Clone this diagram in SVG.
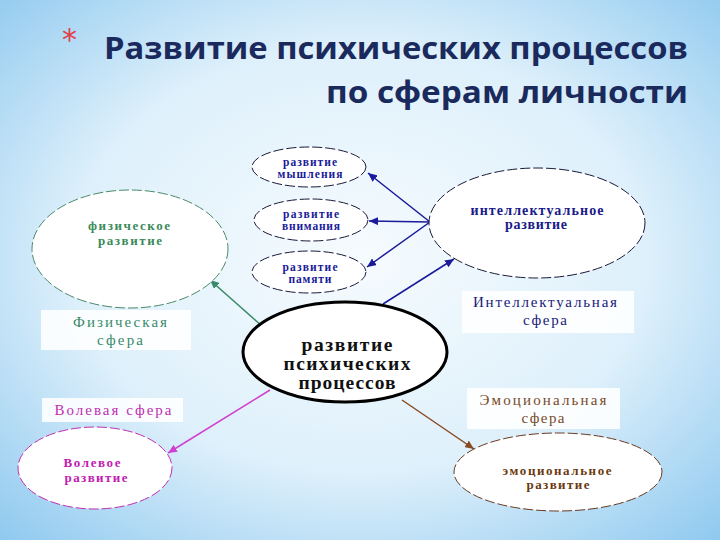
<svg xmlns="http://www.w3.org/2000/svg" width="720" height="540" viewBox="0 0 720 540">
<defs>
<radialGradient id="bg" cx="50%" cy="48%" r="72%">
<stop offset="0" stop-color="#f6fbfe"/>
<stop offset="0.55" stop-color="#def0fb"/>
<stop offset="1" stop-color="#8fc9ef"/>
</radialGradient>
<marker id="mBlue" markerUnits="userSpaceOnUse" markerWidth="9" markerHeight="8" refX="9" refY="4" orient="auto"><path d="M0,0 L9,4 L0,8 z" fill="#1a1a9a"/></marker>
<marker id="mGreen" markerUnits="userSpaceOnUse" markerWidth="9" markerHeight="8" refX="9" refY="4" orient="auto"><path d="M0,0 L9,4 L0,8 z" fill="#3a8a6a"/></marker>
<marker id="mMag" markerUnits="userSpaceOnUse" markerWidth="9" markerHeight="8" refX="9" refY="4" orient="auto"><path d="M0,0 L9,4 L0,8 z" fill="#d040d0"/></marker>
<marker id="mBrown" markerUnits="userSpaceOnUse" markerWidth="9" markerHeight="8" refX="9" refY="4" orient="auto"><path d="M0,0 L9,4 L0,8 z" fill="#8a4a20"/></marker>
</defs>
<style>
.title{font-family:"Open Sans","DejaVu Sans",sans-serif;font-weight:bold;font-size:30px;fill:#1b2a5c}
.el{fill:#ffffff;stroke-width:1;stroke-dasharray:10 3}
.b{font-family:"Liberation Serif","Times New Roman",serif;font-weight:bold;text-anchor:middle}
.r{font-family:"Liberation Serif","Times New Roman",serif;text-anchor:middle;font-size:15px}
.box{fill:#ffffff;fill-opacity:0.88}
.ln{fill:none;stroke-width:1.5}
</style>
<rect width="720" height="540" fill="url(#bg)"/>
<g id="title">
<text x="62" y="50" font-family="'DejaVu Sans',sans-serif" font-size="30" fill="#e04048">*</text>
<text class="title" x="688" y="59" text-anchor="end" textLength="584" lengthAdjust="spacingAndGlyphs">Развитие психических процессов</text>
<text class="title" x="688" y="103" text-anchor="end" textLength="362" lengthAdjust="spacingAndGlyphs">по сферам личности</text>
</g>
<g id="connectors">
<line class="ln" stroke="#1a1a9a" x1="430" y1="222" x2="368" y2="173" marker-end="url(#mBlue)"/>
<line class="ln" stroke="#1a1a9a" x1="430" y1="222" x2="369" y2="221" marker-end="url(#mBlue)"/>
<line class="ln" stroke="#1a1a9a" x1="430" y1="222" x2="367" y2="267" marker-end="url(#mBlue)"/>
<line class="ln" stroke="#1a1a9a" x1="383" y1="304" x2="454" y2="259" marker-end="url(#mBlue)"/>
<line class="ln" stroke="#3a8a6a" x1="262" y1="326" x2="210" y2="280" marker-end="url(#mGreen)"/>
<line class="ln" stroke="#d040d0" x1="270" y1="390" x2="168" y2="453" marker-end="url(#mMag)"/>
<line class="ln" stroke="#8a4a20" x1="402" y1="400" x2="474" y2="449" marker-end="url(#mBrown)"/>
</g>
<g id="thinking">
<ellipse class="el" stroke="#1a1a3a" cx="309" cy="167" rx="57" ry="20"/>
<text class="b" fill="#1a1a9a" font-size="11.5" x="310" y="166" textLength="54">развитие</text>
<text class="b" fill="#1a1a9a" font-size="11.5" x="310" y="178" textLength="65">мышления</text>
</g>
<g id="attention">
<ellipse class="el" stroke="#1a1a3a" cx="311" cy="220" rx="57" ry="21"/>
<text class="b" fill="#1a1a9a" font-size="11.5" x="311" y="218" textLength="56">развитие</text>
<text class="b" fill="#1a1a9a" font-size="11.5" x="311" y="230" textLength="58">внимания</text>
</g>
<g id="memory">
<ellipse class="el" stroke="#1a1a3a" cx="309" cy="272" rx="57" ry="21"/>
<text class="b" fill="#1a1a9a" font-size="11.5" x="310" y="271" textLength="55">развитие</text>
<text class="b" fill="#1a1a9a" font-size="11.5" x="310" y="283" textLength="43">памяти</text>
</g>
<g id="intellectual">
<ellipse class="el" stroke="#1a1a3a" cx="537" cy="223" rx="108" ry="55"/>
<text class="b" fill="#1a1a8a" font-size="14" x="537" y="215" textLength="133">интеллектуальное</text>
<text class="b" fill="#1a1a8a" font-size="14" x="536" y="229" textLength="62">развитие</text>
</g>
<g id="intellectual-label">
<rect class="box" x="462" y="291" width="172" height="42"/>
<text class="r" fill="#1a1a7a" x="545" y="307" textLength="144">Интеллектуальная</text>
<text class="r" fill="#1a1a7a" x="545" y="325" textLength="44">сфера</text>
</g>
<g id="physical">
<ellipse class="el" stroke="#4a8a6a" cx="130" cy="249" rx="98" ry="59"/>
<text class="b" fill="#3a8a5a" font-size="13" x="129" y="230" textLength="82">физическое</text>
<text class="b" fill="#3a8a5a" font-size="13" x="130" y="245" textLength="64">развитие</text>
</g>
<g id="physical-label">
<rect class="box" x="41" y="310" width="150" height="40"/>
<text class="r" fill="#3a8a6a" x="120" y="327" textLength="94">Физическая</text>
<text class="r" fill="#3a8a6a" x="120" y="345" textLength="46">сфера</text>
</g>
<g id="central">
<ellipse cx="345" cy="352" rx="102" ry="50" fill="#ffffff" stroke="#000000" stroke-width="3"/>
<text class="b" fill="#111111" font-size="19.5" x="347" y="351" textLength="91">развитие</text>
<text class="b" fill="#111111" font-size="19.5" x="347" y="370" textLength="127">психических</text>
<text class="b" fill="#111111" font-size="19.5" x="347" y="389" textLength="97">процессов</text>
</g>
<g id="volition-label">
<rect class="box" x="42" y="398" width="141" height="24"/>
<text class="r" fill="#c030b0" x="113" y="415" textLength="117">Волевая сфера</text>
</g>
<g id="volition">
<ellipse class="el" stroke="#c030b0" cx="95" cy="468" rx="77" ry="41"/>
<text class="b" fill="#c020b0" font-size="13" x="92" y="467" textLength="57">Волевое</text>
<text class="b" fill="#c020b0" font-size="13" x="96" y="482" textLength="63">развитие</text>
</g>
<g id="emotional-label">
<rect class="box" x="467" y="388" width="153" height="41"/>
<text class="r" fill="#7a4a2a" x="543" y="405" textLength="127">Эмоциональная</text>
<text class="r" fill="#7a4a2a" x="543" y="423" textLength="43">сфера</text>
</g>
<g id="emotional">
<ellipse class="el" stroke="#6a3a20" cx="558" cy="472" rx="104" ry="39"/>
<text class="b" fill="#6a3a10" font-size="13" x="557" y="475" textLength="109">эмоциональное</text>
<text class="b" fill="#6a3a10" font-size="13" x="558" y="489" textLength="63">развитие</text>
</g>
</svg>
